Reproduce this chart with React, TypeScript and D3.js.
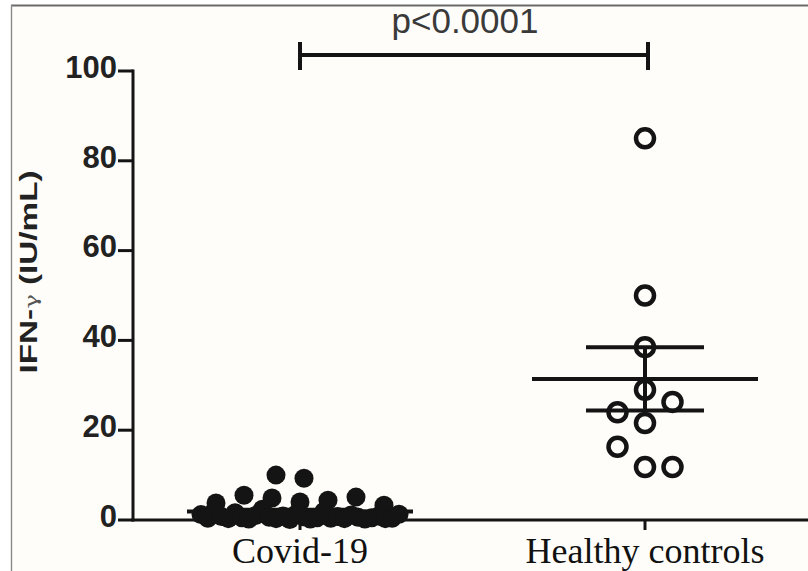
import React from "react";
import * as d3 from "d3";

const groups = ["Covid-19", "Healthy controls"];

// IFN-γ (IU/mL), in data-entry order
const covidValues = [
  10, 9.3,
  3.8, 5.5, 4.9, 4.0, 4.4, 5.1, 3.3,
  1.2, 0.4, 2.1, 0.8, 0.3, 1.6, 0.5, 0.2, 1.0, 2.4, 0.6, 0.3, 0.9, 0.1, 1.4,
  0.7, 0.2, 0.5, 1.9, 0.4, 0.8, 0.3, 1.1, 0.6, 0.2, 0.5, 0.9, 0.3, 0.4, 1.3,
];
const healthyValues = [85, 50, 38.5, 29, 21.6, 24, 26.3, 16.3, 11.8, 11.8];

const yTicks = [0, 20, 40, 60, 80, 100];
const pLabel = "p<0.0001";

const W = 808;
const H = 571;

function meanSem(vals: number[]) {
  const m = d3.mean(vals) as number;
  const sd = d3.deviation(vals) as number;
  return { m, sem: sd / Math.sqrt(vals.length) };
}

// GraphPad-like rows: bin by value, centre each row on the group
function rowLayout(vals: number[], cx: number, y: (v: number) => number) {
  const bin = 3;
  const rows = d3.group(
    vals.map((v, i) => ({ v, i })),
    (d) => Math.floor(d.v / bin)
  );
  const out: { x: number; y: number }[] = [];
  rows.forEach((pts) => {
    const n = pts.length;
    const sp = n > 1 ? Math.min(28, 198 / (n - 1)) : 0;
    const shift = n === 2 ? -10 : 0;
    pts.forEach((p, j) => {
      out.push({ x: cx + shift + (j - (n - 1) / 2) * sp, y: y(p.v) });
    });
  });
  return out;
}

// simple beeswarm on a fixed horizontal step
function swarm(vals: number[], cx: number, y: (v: number) => number) {
  const step = 27.5;
  const minDist = 26;
  const placed: { x: number; y: number }[] = [];
  vals.forEach((v) => {
    const py = y(v);
    for (let k = 0; k < 20; k++) {
      const off = k === 0 ? 0 : (k % 2 === 1 ? -1 : 1) * Math.ceil(k / 2);
      const px = cx + off * step;
      const hit = placed.some((p) => Math.hypot(p.x - px, p.y - py) < minDist);
      if (!hit) {
        placed.push({ x: px, y: py });
        break;
      }
    }
  });
  return placed;
}

export default function App() {
  const axisX = 133;
  const y = d3.scaleLinear().domain([0, 100]).range([520, 71]);
  const x = d3.scalePoint<string>().domain(groups).range([300, 645]);

  const cx0 = x(groups[0]) as number;
  const cx1 = x(groups[1]) as number;
  const covidPts = rowLayout(covidValues, cx0, y);
  const healthyPts = swarm(healthyValues, cx1, y);
  const stats = [meanSem(covidValues), meanSem(healthyValues)];
  const centers = [cx0, cx1];
  const meanHalf = 113;
  const whiskHalf = 59;
  const ink = "#141414";
  const sans = "Liberation Sans, Arial, sans-serif";

  return (
    <svg
      width={W}
      height={H}
      style={{ position: "absolute", left: 0, top: 0, display: "block" }}
    >
      <rect x={0} y={0} width={W} height={H} fill="#ffffff" />
      <rect x={11} y={5} width={W - 11} height={H - 5} fill="#fefdf9" />
      <line x1={11} x2={W} y1={5.5} y2={5.5} stroke="#6a6a6a" strokeWidth={2.2} />
      <line x1={11.5} x2={11.5} y1={5} y2={H} stroke="#8a8a8a" strokeWidth={1.4} />

      {/* y axis */}
      <line x1={axisX} x2={axisX} y1={y(0) + 1.5} y2={y(100) - 1.5} stroke={ink} strokeWidth={3} />
      {yTicks.map((t) => (
        <g key={t}>
          <line x1={axisX - 15} x2={axisX} y1={y(t)} y2={y(t)} stroke={ink} strokeWidth={3} />
          <text
            x={axisX - 16}
            y={y(t)}
            dy="0.22em"
            textAnchor="end"
            fontFamily={sans}
            fontWeight="bold"
            fontSize={31}
            fill="#222"
          >
            {t}
          </text>
        </g>
      ))}
      <text
        transform={`translate(37,${272}) rotate(-90)`}
        textAnchor="middle"
        fontFamily={sans}
        fontWeight="bold"
        fontSize={23}
        fill="#222"
        textLength={203}
        lengthAdjust="spacingAndGlyphs"
      >
        IFN-
        <tspan fontFamily="DejaVu Serif, serif" fontWeight="normal" fontSize={17} fill="#555">
          γ
        </tspan>
        {" (IU/mL)"}
      </text>

      {/* x axis */}
      <line x1={axisX - 1.5} x2={W} y1={y(0)} y2={y(0)} stroke={ink} strokeWidth={3} />
      {groups.map((g) => (
        <g key={g}>
          <line x1={x(g)} x2={x(g)} y1={y(0)} y2={y(0) + 10} stroke={ink} strokeWidth={3} />
          <text
            x={x(g)}
            y={563}
            textAnchor="middle"
            fontFamily="Liberation Serif, Times New Roman, serif"
            fontSize={36}
            fill="#111"
          >
            {g}
          </text>
        </g>
      ))}

      {/* mean ± SEM */}
      {stats.map((s, i) => (
        <g key={i} stroke={ink} strokeWidth={4}>
          <line x1={centers[i] - meanHalf} x2={centers[i] + meanHalf} y1={y(s.m)} y2={y(s.m)} />
          <line x1={centers[i] - whiskHalf} x2={centers[i] + whiskHalf} y1={y(s.m + s.sem)} y2={y(s.m + s.sem)} />
          <line x1={centers[i] - whiskHalf} x2={centers[i] + whiskHalf} y1={y(s.m - s.sem)} y2={y(s.m - s.sem)} />
          <line x1={centers[i]} x2={centers[i]} y1={y(s.m + s.sem)} y2={y(s.m - s.sem)} />
        </g>
      ))}

      {covidPts.map((p, i) => (
        <circle key={"c" + i} cx={p.x} cy={p.y} r={9.5} fill={ink} />
      ))}
      {healthyPts.map((p, i) => (
        <circle key={"h" + i} cx={p.x} cy={p.y} r={9} fill="none" stroke={ink} strokeWidth={4.5} />
      ))}

      {/* significance bracket */}
      <g stroke={ink} strokeWidth={4}>
        <line x1={cx0} x2={cx1 + 3} y1={55} y2={55} />
        <line x1={cx0} x2={cx0} y1={42} y2={70} />
        <line x1={cx1 + 3} x2={cx1 + 3} y1={42} y2={70} />
      </g>
      <text
        x={465}
        y={33}
        textAnchor="middle"
        fontFamily={sans}
        fontSize={35}
        fill="#3a3a3a"
      >
        {pLabel}
      </text>
    </svg>
  );
}
